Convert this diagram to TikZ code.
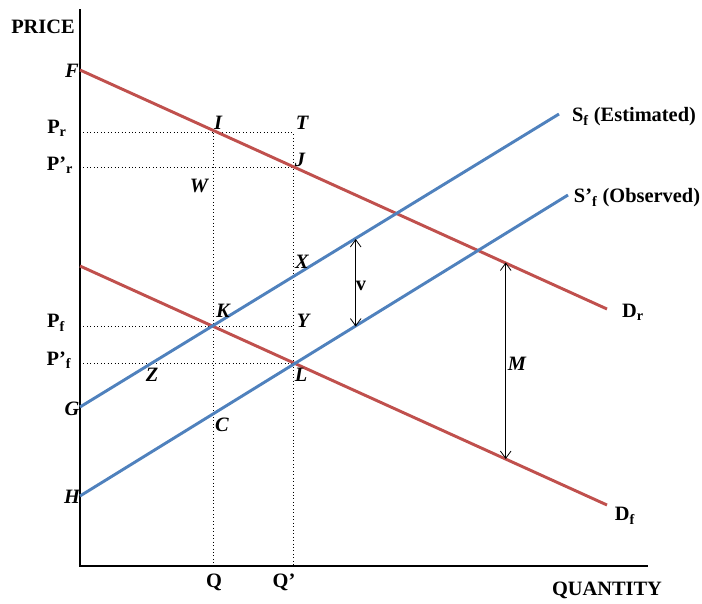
\documentclass[tikz,border=0pt]{standalone}
\usepackage{fontspec}
\setmainfont{Liberation Serif}
\usetikzlibrary{arrows.meta}
\definecolor{demandred}{HTML}{C0504D}
\definecolor{supplyblue}{HTML}{4F81BD}

\begin{document}
\begin{tikzpicture}[x=0.75pt, y=-0.75pt,
    every node/.style={font=\fontsize{15.3}{18}\selectfont\bfseries, inner sep=0pt},
    pt/.style={font=\fontsize{15.3}{18}\selectfont\bfseries\itshape},
    demand/.style={draw=demandred, line width=2.2pt},
    supply/.style={draw=supplyblue, line width=2.2pt},
    guide/.style={dotted, line width=0.6pt},
    gap/.style={{Straight Barb[length=5.5pt, width=8pt]}-{Straight Barb[length=5.5pt, width=8pt]}, line width=0.6pt},
  ]
    \useasboundingbox (0,0) rectangle (702,603);

    % axes
    \coordinate (O)    at (80,566);
    \coordinate (ytop) at (80,9);
    \coordinate (xend) at (648,566);
    \draw[line width=1pt] (ytop) -- (O) -- (xend);
    \node (price)    at (43,27)  {PRICE};
    \node (quantity) at (607,590) {QUANTITY};

    % curve ends
    \coordinate (F)  at (80,70);
    \coordinate (Dr) at (607,309);
    \coordinate (Df0) at (80,266);
    \coordinate (Df) at (607,505);
    \coordinate (G)  at (80,407);
    \coordinate (Sf) at (559,114);
    \coordinate (H)  at (80,496);
    \coordinate (Sfo) at (568,195);

    % price and quantity guides
    \coordinate (Pr)  at (80,132.5);
    \coordinate (Prp) at (80,167.5);
    \coordinate (Pf)  at (80,326.5);
    \coordinate (Pfp) at (80,363);
    \coordinate (Ic)  at (213.5,132.5);
    \coordinate (Tc)  at (293,132.5);
    \coordinate (Jc)  at (293,167.5);
    \coordinate (Yc)  at (293,326.5);
    \coordinate (Lc)  at (293,363);
    \coordinate (Qa)  at (213.5,566);
    \coordinate (Qpa) at (293,566);

    \draw[guide] (Pr) -- (Tc) -- (Qpa);
    \draw[guide] (Ic) -- (Qa);
    \draw[guide] (Prp) -- (Jc);
    \draw[guide] (Pf) -- (Yc);
    \draw[guide] (Pfp) -- (Lc);

    \draw[demand] (F) -- (Dr);
    \draw[demand] (Df0) -- (Df);
    \draw[supply] (G) -- (Sf);
    \draw[supply] (H) -- (Sfo);

    % gaps
    \coordinate (vtop) at (355.7,239);
    \coordinate (vbot) at (355.7,326.5);
    \coordinate (Mtop) at (505.7,262.5);
    \coordinate (Mbot) at (505.7,459);
    \draw[gap] (vtop) -- (vbot);
    \draw[gap] (Mtop) -- (Mbot);
    \node (v) at (361,286) {v};
    \node[pt] (M) at (517,364) {M};

    % axis labels
    \node (pr)  at (57,128)  {P\textsubscript{r}};
    \node (prp) at (60,165)  {P’\textsubscript{r}};
    \node (pf)  at (56,323)  {P\textsubscript{f}};
    \node (pfp) at (59,360)  {P’\textsubscript{f}};
    \node (q)   at (214,582) {Q};
    \node (qp)  at (284,582) {Q’};

    % points
    \node[pt] (f) at (72,71)   {F};
    \node[pt] (i) at (218,123) {I};
    \node[pt] (t) at (302,123) {T};
    \node[pt] (j) at (300,160) {J};
    \node[pt] (w) at (199,186) {W};
    \node[pt] (x) at (302,262) {X};
    \node[pt] (k) at (223,311) {K};
    \node[pt] (y) at (303,321) {Y};
    \node[pt] (z) at (152,375) {Z};
    \node[pt] (l) at (301,375) {L};
    \node[pt] (g) at (72,409)  {G};
    \node[pt] (c) at (222,425) {C};
    \node[pt] (h) at (72,497)  {H};

    % curve labels
    \node (sf)  at (634,117) {S\textsubscript{f} (Estimated)};
    \node (sfo) at (637,198) {S’\textsubscript{f} (Observed)};
    \node (dr)  at (633,312) {D\textsubscript{r}};
    \node (df)  at (625,516) {D\textsubscript{f}};
\end{tikzpicture}
\end{document}
